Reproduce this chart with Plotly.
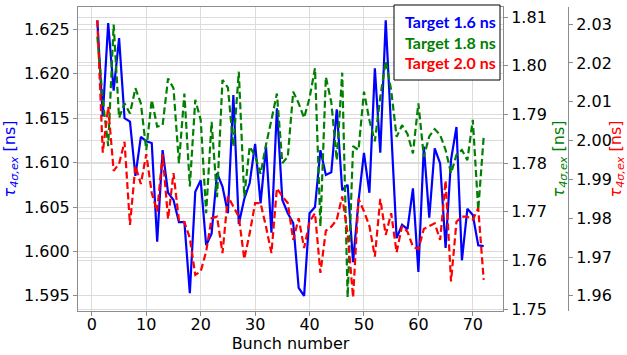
import plotly.graph_objects as go

bunch = list(range(1, 73))

tau_16 = [1.6260, 1.6152, 1.6257, 1.6181, 1.6240, 1.6150, 1.6146, 1.6085, 1.6129, 1.6124,
          1.6122, 1.6011, 1.6114, 1.6066, 1.6058, 1.6033, 1.6033, 1.5953, 1.6067, 1.6080,
          1.6007, 1.6020, 1.6088, 1.6073, 1.6043, 1.6176, 1.6031, 1.6059, 1.6077, 1.6121,
          1.6054, 1.6118, 1.6021, 1.6161, 1.6058, 1.6043, 1.6032, 1.5959, 1.5950, 1.6043,
          1.6050, 1.6114, 1.6086, 1.6089, 1.6160, 1.6069, 1.6075, 1.5988, 1.6057, 1.6111,
          1.6066, 1.6206, 1.6111, 1.6260, 1.6137, 1.6015, 1.6030, 1.6025, 1.6071, 1.5977,
          1.6118, 1.6038, 1.6116, 1.6099, 1.6004, 1.6103, 1.6140, 1.5990, 1.6048, 1.6041,
          1.6007, 1.6006]

tau_18 = [1.8060, 1.7930, 1.7835, 1.8085, 1.7893, 1.7923, 1.7902, 1.7954, 1.7923, 1.7827,
          1.7930, 1.7875, 1.7878, 1.7974, 1.7954, 1.7800, 1.7943, 1.7752, 1.7930, 1.7889,
          1.7697, 1.7885, 1.7730, 1.7971, 1.7955, 1.7834, 1.7988, 1.7731, 1.7834, 1.7815,
          1.7778, 1.7838, 1.7889, 1.7943, 1.7800, 1.7813, 1.7947, 1.7923, 1.7893, 1.7934,
          1.7995, 1.7670, 1.7977, 1.7925, 1.7806, 1.7986, 1.7524, 1.7835, 1.7827, 1.7947,
          1.7888, 1.7845, 1.7936, 1.8010, 1.7950, 1.7854, 1.7878, 1.7860, 1.7820, 1.7923,
          1.7813, 1.7855, 1.7870, 1.7858, 1.7827, 1.7779, 1.7817, 1.7827, 1.7806, 1.7889,
          1.7704, 1.7854]

tau_20 = [2.0310, 1.9969, 2.0087, 1.9922, 1.9940, 1.9997, 1.9783, 1.9935, 1.9888, 1.9965,
          1.9865, 1.9817, 1.9965, 1.9798, 1.9916, 1.9795, 1.9790, 1.9749, 1.9654, 1.9663,
          1.9714, 1.9800, 1.9804, 1.9710, 1.9856, 1.9830, 1.9804, 1.9695, 1.9761, 1.9839,
          1.9839, 1.9778, 1.9710, 1.9877, 1.9856, 1.9839, 1.9744, 1.9800, 1.9723, 1.9791,
          1.9813, 1.9659, 1.9768, 1.9778, 1.9796, 1.9856, 1.9760, 1.9596, 1.9850, 1.9818,
          1.9780, 1.9701, 1.9850, 1.9757, 1.9813, 1.9712, 1.9780, 1.9765, 1.9727, 1.9720,
          1.9772, 1.9780, 1.9787, 1.9744, 1.9897, 1.9637, 1.9791, 1.9804, 1.9804, 1.9796,
          1.9826, 1.9641]

labels = ["Target 1.6 ns", "Target 1.8 ns", "Target 2.0 ns"]
colors = ["blue", "green", "red"]

x_ticks = [0, 10, 20, 30, 40, 50, 60, 70]
y1_ticks = [1.595, 1.600, 1.605, 1.610, 1.615, 1.620, 1.625]
y2_ticks = [1.75, 1.76, 1.77, 1.78, 1.79, 1.80, 1.81]
y3_ticks = [1.96, 1.97, 1.98, 1.99, 2.00, 2.01, 2.02, 2.03]

W, H = 627, 355
ML, MR, MT, MB = 78, 0, 7, 44
plot_w = W - ML - MR
xdom_end = 425 / plot_w
red_pos = 490 / plot_w

FONT = "DejaVu Sans"
GRID = "#dcdcdc"
SPINE = "#8c8c8c"

fig = go.Figure()
fig.add_trace(go.Scatter(x=bunch, y=tau_16, mode="lines", name=labels[0],
                         line=dict(color=colors[0], width=2.2), yaxis="y"))
fig.add_trace(go.Scatter(x=bunch, y=tau_18, mode="lines", name=labels[1],
                         line=dict(color=colors[1], width=2.2, dash="7px,3.5px"), yaxis="y2"))
fig.add_trace(go.Scatter(x=bunch, y=tau_20, mode="lines", name=labels[2],
                         line=dict(color=colors[2], width=2.2, dash="7px,3.5px"), yaxis="y3"))

title_txt = "<i>τ</i><sub><i>4σ,ex</i></sub> [ns]"

common_y = dict(showgrid=True, gridcolor=GRID, gridwidth=1, zeroline=False,
                showline=True, linecolor=SPINE, linewidth=1,
                ticks="outside", ticklen=4, tickcolor=SPINE,
                tickfont=dict(family=FONT, size=16, color="black"))

fig.update_layout(
    width=W, height=H,
    margin=dict(l=ML, r=MR, t=MT, b=MB),
    paper_bgcolor="white", plot_bgcolor="white",
    showlegend=False,
    xaxis=dict(domain=[0, xdom_end], range=[-2.55, 75.55], tickvals=x_ticks,
               showgrid=True, gridcolor=GRID, zeroline=False,
               showline=True, linecolor=SPINE, mirror=True,
               ticks="outside", ticklen=4, tickcolor=SPINE,
               ticklabelstandoff=-5,
               tickfont=dict(family=FONT, size=16, color="black"),
               title=dict(text="Bunch number", font=dict(family=FONT, size=16, color="black"),
                          standoff=0)),
    yaxis=dict(range=[1.5933, 1.6275], tickvals=y1_ticks, tickformat=".3f",
               title=dict(text=title_txt, font=dict(family=FONT, size=16, color="blue"),
                          standoff=6),
               **common_y),
    yaxis2=dict(range=[1.7496, 1.8121], tickvals=y2_ticks, tickformat=".2f",
                overlaying="y", side="right", anchor="x",
                title=dict(text=title_txt, font=dict(family=FONT, size=16, color="green"),
                           standoff=6),
                **common_y),
    yaxis3=dict(range=[1.9561, 2.0344], tickvals=y3_ticks, tickformat=".2f",
                overlaying="y", side="right", anchor="free", position=red_pos,
                title=dict(text=title_txt, font=dict(family=FONT, size=16, color="red"),
                           standoff=4),
                **common_y),
)

def px_to_paper_x(px):
    return (px - ML) / plot_w

def px_to_paper_y(py):
    return (H - MB - py) / (H - MT - MB)

fig.add_shape(type="rect", xref="paper", yref="paper",
              x0=px_to_paper_x(394), x1=px_to_paper_x(500),
              y0=px_to_paper_y(80), y1=px_to_paper_y(5),
              line=dict(color="black", width=1), fillcolor="white", layer="above")
for lab, col, py in zip(labels, colors, [21.7, 42.5, 62.3]):
    fig.add_annotation(xref="paper", yref="paper", x=px_to_paper_x(403), y=px_to_paper_y(py),
                       xanchor="left", yanchor="middle", showarrow=False,
                       text="<b>" + lab + "</b>",
                       font=dict(family="Lato", size=16, color=col))

fig.write_html("out.html")
